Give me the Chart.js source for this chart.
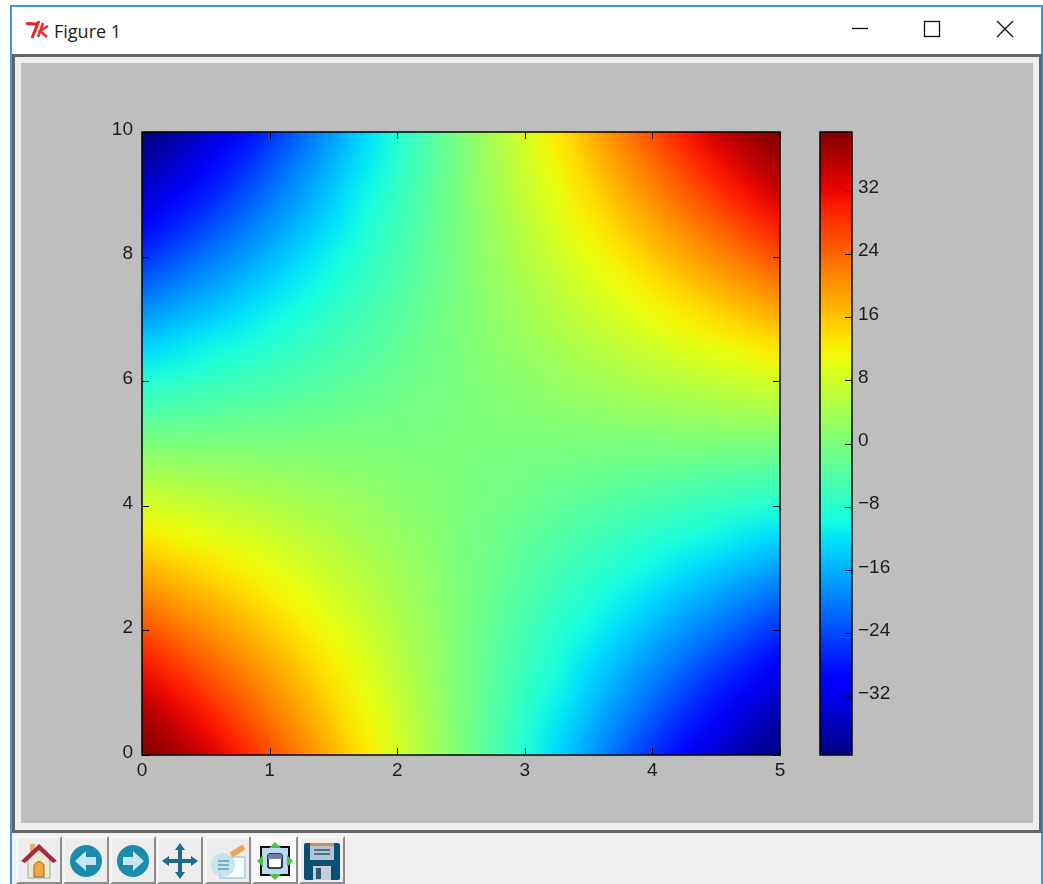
<!DOCTYPE html>
<html>
<head>
<meta charset="utf-8">
<title>Figure 1</title>
<script src="https://cdn.jsdelivr.net/npm/chart.js@4/dist/chart.umd.min.js"></script>
<style>
	html, body { margin: 0; padding: 0; background: #fff; overflow: hidden; }
	.box { position: absolute; box-sizing: border-box; }
	#win { left: 10px; top: 5px; width: 1033px; height: 879px; border: 2px solid #3f96dc; border-bottom: 0; background: #fff; }
	#frame { left: 12px; top: 54px; width: 1030px; height: 779px; border: 3px solid #666; background: #eee; }
	#fig { left: 21px; top: 63px; width: 1012px; height: 760px; background: #bebebe; }
	#bar { left: 12px; top: 833px; width: 1029px; height: 51px; background: #f0f0f0; }
	#name { left: 54px; top: 19px; font: 18px "Open Sans", sans-serif; color: #222; }
	canvas { position: absolute; }
	.btn { position: absolute; top: 836px; width: 46px; height: 48px; box-sizing: border-box; background: #ededed;
		border: 2px solid; border-color: #f6f6f6 #8c8c8c #8c8c8c #f6f6f6; }
	.btn svg { position: absolute; left: 2px; top: 3px; }
	.ctl { position: absolute; top: 14px; }
</style>
</head>
<body>
<div class="box" id="win"></div>
<div class="box" id="frame"></div>
<div class="box" id="fig"></div>
<div class="box" id="bar"></div>

<svg class="ctl" style="left:25px;top:21px" width="26" height="20" viewBox="0 0 26 20">
	<path d="M1 3 C5 1 9 5 13 2 L7 17" fill="none" stroke="#f0202a" stroke-width="3"/>
	<path d="M18 2 L13 16 M23 5 L15 10 L22 16" fill="none" stroke="#e8303a" stroke-width="2.6"/>
</svg>
<div class="box" id="name">Figure 1</div>
<svg class="ctl" style="left:850px" width="20" height="30"><path d="M2 14.5 H18" stroke="#111" stroke-width="1.3"/></svg>
<svg class="ctl" style="left:922px" width="20" height="30"><rect x="2.5" y="7.5" width="15" height="15" fill="none" stroke="#111" stroke-width="1.3"/></svg>
<svg class="ctl" style="left:995px" width="20" height="30"><path d="M2 7 L18 23 M18 7 L2 23" stroke="#111" stroke-width="1.3"/></svg>

<canvas id="chart-heat" width="779" height="760" style="left:21px;top:63px"></canvas>
<canvas id="chart-bar" width="233" height="760" style="left:800px;top:63px"></canvas>

<div class="btn" style="left:16px"><svg width="38" height="40" viewBox="0 0 38 40">
	<rect x="10" y="3" width="5" height="10" fill="#e0b070"/><path d="M8 17 L19 7 L30 17 V37 H8 Z" fill="#f2e6d0" stroke="#9aa" />
	<path d="M14 36 V24 Q19 17 24 24 V36 Z" fill="#eea93a" stroke="#8a6a30"/>
	<path d="M1 20 L19 3 L37 20 L33 22 L19 9 L5 22 Z" fill="#a52a40"/></svg></div>
<div class="btn" style="left:63px"><svg width="38" height="40" viewBox="0 0 38 40">
	<circle cx="19" cy="20" r="16" fill="#1b8cab"/><path d="M8 20 L19 10 V16 H29 V24 H19 V30 Z" fill="#c5e6ee"/></svg></div>
<div class="btn" style="left:110px"><svg width="38" height="40" viewBox="0 0 38 40">
	<circle cx="19" cy="20" r="16" fill="#1b8cab"/><path d="M30 20 L19 10 V16 H9 V24 H19 V30 Z" fill="#c5e6ee"/></svg></div>
<div class="btn" style="left:157px"><svg width="38" height="40" viewBox="0 0 38 40">
	<path d="M19 2 L24 9 H21 V18 H30 V15 L37 20 L30 25 V22 H21 V31 H24 L19 38 L14 31 H17 V22 H8 V25 L1 20 L8 15 V18 H17 V9 H14 Z" fill="#1c6a8e"/></svg></div>
<div class="btn" style="left:205px"><svg width="38" height="40" viewBox="0 0 38 40">
	<rect x="11" y="16" width="25" height="21" fill="#f6fbfd" stroke="#9fd0de" stroke-width="1.5"/>
	<circle cx="14" cy="24" r="12" fill="#bfe0ea" opacity=".85"/>
	<path d="M9 20 H20 M9 24 H20 M9 28 H20" stroke="#5d9cb4" stroke-width="1.6"/>
	<path d="M22 14 L35 6" stroke="#eda45c" stroke-width="6"/></svg></div>
<div class="btn" style="left:252px;background:#fafafa"><svg width="38" height="40" viewBox="0 0 38 40">
	<rect x="5" y="6" width="28" height="28" fill="#bcd9ee" stroke="#111" stroke-width="2"/>
	<rect x="12" y="13" width="14" height="14" rx="2" fill="#fff" stroke="#111" stroke-width="1.6"/>
	<rect x="12" y="13" width="14" height="5" fill="#6a80a8"/>
	<path d="M19 1 L25 7 H13 Z M19 39 L25 33 H13 Z M1 20 L7 14 V26 Z M37 20 L31 14 V26 Z" fill="#43c443"/></svg></div>
<div class="btn" style="left:299px"><svg width="38" height="40" viewBox="0 0 38 40">
	<rect x="1" y="2" width="36" height="37" rx="2" fill="#0c4f76"/>
	<rect x="7" y="2" width="24" height="17" fill="#b3c4d0"/><rect x="7" y="2" width="24" height="3" fill="#d08a58"/>
	<path d="M11 9 H27 M11 13 H27" stroke="#49708a" stroke-width="2"/>
	<rect x="10" y="25" width="18" height="14" fill="#c4ced6"/><rect x="13" y="27" width="5" height="11" fill="#34546c"/></svg></div>

<script>
// Chart data
const xNodes = [0, 0.25, 0.5, 0.75, 1, 1.25, 1.5, 1.75, 2, 2.25, 2.5, 2.75, 3, 3.25, 3.5, 3.75, 4, 4.25, 4.5, 4.75, 5];
const yNodes = [10, 9.5, 9, 8.5, 8, 7.5, 7, 6.5, 6, 5.5, 5, 4.5, 4, 3.5, 3, 2.5, 2, 1.5, 1, 0.5, 0];
const heatRows = [
	[-39.4, -37.1, -34.1, -30.2, -25.9, -21.6, -17.3, -12.9, -8.6, -4.3, 0, 4.3, 8.6, 12.9, 17.3, 21.6, 25.9, 30.2, 34.1, 37.1, 39.4],
	[-37.1, -34.4, -31.1, -27.2, -23.3, -19.4, -15.5, -11.6, -7.8, -3.9, 0, 3.9, 7.8, 11.6, 15.5, 19.4, 23.3, 27.2, 31.1, 34.4, 37.1],
	[-34.1, -31.1, -27.6, -24.2, -20.7, -17.3, -13.8, -10.4, -6.9, -3.5, 0, 3.5, 6.9, 10.4, 13.8, 17.3, 20.7, 24.2, 27.6, 31.1, 34.1],
	[-30.2, -27.2, -24.2, -21.1, -18.1, -15.1, -12.1, -9.1, -6, -3, 0, 3, 6, 9.1, 12.1, 15.1, 18.1, 21.1, 24.2, 27.2, 30.2],
	[-25.9, -23.3, -20.7, -18.1, -15.5, -12.9, -10.4, -7.8, -5.2, -2.6, 0, 2.6, 5.2, 7.8, 10.4, 12.9, 15.5, 18.1, 20.7, 23.3, 25.9],
	[-21.6, -19.4, -17.3, -15.1, -12.9, -10.8, -8.6, -6.5, -4.3, -2.2, 0, 2.2, 4.3, 6.5, 8.6, 10.8, 12.9, 15.1, 17.3, 19.4, 21.6],
	[-17.3, -15.5, -13.8, -12.1, -10.4, -8.6, -6.9, -5.2, -3.5, -1.7, 0, 1.7, 3.5, 5.2, 6.9, 8.6, 10.4, 12.1, 13.8, 15.5, 17.3],
	[-12.9, -11.6, -10.4, -9.1, -7.8, -6.5, -5.2, -3.9, -2.6, -1.3, 0, 1.3, 2.6, 3.9, 5.2, 6.5, 7.8, 9.1, 10.4, 11.6, 12.9],
	[-8.6, -7.8, -6.9, -6, -5.2, -4.3, -3.5, -2.6, -1.7, -0.9, 0, 0.9, 1.7, 2.6, 3.5, 4.3, 5.2, 6, 6.9, 7.8, 8.6],
	[-4.3, -3.9, -3.5, -3, -2.6, -2.2, -1.7, -1.3, -0.9, -0.4, 0, 0.4, 0.9, 1.3, 1.7, 2.2, 2.6, 3, 3.5, 3.9, 4.3],
	[0, 0, 0, 0, 0, 0, 0, 0, 0, 0, 0, 0, 0, 0, 0, 0, 0, 0, 0, 0, 0],
	[4.3, 3.9, 3.5, 3, 2.6, 2.2, 1.7, 1.3, 0.9, 0.4, 0, -0.4, -0.9, -1.3, -1.7, -2.2, -2.6, -3, -3.5, -3.9, -4.3],
	[8.6, 7.8, 6.9, 6, 5.2, 4.3, 3.5, 2.6, 1.7, 0.9, 0, -0.9, -1.7, -2.6, -3.5, -4.3, -5.2, -6, -6.9, -7.8, -8.6],
	[12.9, 11.6, 10.4, 9.1, 7.8, 6.5, 5.2, 3.9, 2.6, 1.3, 0, -1.3, -2.6, -3.9, -5.2, -6.5, -7.8, -9.1, -10.4, -11.6, -12.9],
	[17.3, 15.5, 13.8, 12.1, 10.4, 8.6, 6.9, 5.2, 3.5, 1.7, 0, -1.7, -3.5, -5.2, -6.9, -8.6, -10.4, -12.1, -13.8, -15.5, -17.3],
	[21.6, 19.4, 17.3, 15.1, 12.9, 10.8, 8.6, 6.5, 4.3, 2.2, 0, -2.2, -4.3, -6.5, -8.6, -10.8, -12.9, -15.1, -17.3, -19.4, -21.6],
	[25.9, 23.3, 20.7, 18.1, 15.5, 12.9, 10.4, 7.8, 5.2, 2.6, 0, -2.6, -5.2, -7.8, -10.4, -12.9, -15.5, -18.1, -20.7, -23.3, -25.9],
	[30.2, 27.2, 24.2, 21.1, 18.1, 15.1, 12.1, 9.1, 6, 3, 0, -3, -6, -9.1, -12.1, -15.1, -18.1, -21.1, -24.2, -27.2, -30.2],
	[34.1, 31.1, 27.6, 24.2, 20.7, 17.3, 13.8, 10.4, 6.9, 3.5, 0, -3.5, -6.9, -10.4, -13.8, -17.3, -20.7, -24.2, -27.6, -31.1, -34.1],
	[37.1, 34.4, 31.1, 27.2, 23.3, 19.4, 15.5, 11.6, 7.8, 3.9, 0, -3.9, -7.8, -11.6, -15.5, -19.4, -23.3, -27.2, -31.1, -34.4, -37.1],
	[39.4, 37.1, 34.1, 30.2, 25.9, 21.6, 17.3, 12.9, 8.6, 4.3, 0, -4.3, -8.6, -12.9, -17.3, -21.6, -25.9, -30.2, -34.1, -37.1, -39.4],
];

const barColumns = [0, 1];
const barLevels = [40, 38, 36, 34, 32, 30, 28, 26, 24, 22, 20, 18, 16, 14, 12, 10, 8, 6, 4, 2, 0, -2, -4, -6, -8, -10, -12, -14, -16, -18, -20, -22, -24, -26, -28, -30, -32, -34, -36, -38, -40];

const xTicks = [0, 1, 2, 3, 4, 5];
const yTicks = [0, 2, 4, 6, 8, 10];
const barTicks = [-32, -24, -16, -8, 0, 8, 16, 24, 32];
const barMin = -39.4;
const barMax = 39.4;

const tickFont = { family: 'Liberation Sans', size: 19 };
const tickColor = '#1c1c1c';

// matplotlib jet
function ramp(t, pts) {
	for (let i = 1; i < pts.length; i++) {
		if (t <= pts[i][0]) {
			const a = pts[i - 1], b = pts[i];
			return a[1] + ((b[1] - a[1]) * (t - a[0])) / (b[0] - a[0]);
		}
	}
	return pts[pts.length - 1][1];
}
function jet(v) {
	const t = Math.min(1, Math.max(0, (v - barMin) / (barMax - barMin)));
	const r = ramp(t, [[0, 0], [0.35, 0], [0.66, 1], [0.89, 1], [1, 0.5]]);
	const g = ramp(t, [[0, 0], [0.125, 0], [0.375, 1], [0.64, 1], [0.91, 0], [1, 0]]);
	const b = ramp(t, [[0, 0.5], [0.11, 1], [0.34, 1], [0.65, 0], [1, 0]]);
	return `rgb(${Math.round(r * 255)},${Math.round(g * 255)},${Math.round(b * 255)})`;
}

// Paints the grid nodes of dataset 0 as cells, smoothed like imshow does
const cellField = {
	id: 'cellField',
	beforeDatasetsDraw(chart, args, opts) {
		const pts = chart.data.datasets[0].data;
		const nx = opts.cols;
		const ny = pts.length / nx;
		const off = document.createElement('canvas');
		off.width = nx;
		off.height = ny;
		const octx = off.getContext('2d');
		pts.forEach((p, i) => {
			octx.fillStyle = jet(p.v);
			octx.fillRect(i % nx, Math.floor(i / nx), 1, 1);
		});

		const xs = chart.scales.x, ys = chart.scales.y;
		const dx = (pts[1].x - pts[0].x) / 2;
		const dy = (pts[0].y - pts[nx].y) / 2;
		const left = xs.getPixelForValue(pts[0].x - dx);
		const right = xs.getPixelForValue(pts[nx - 1].x + dx);
		const top = ys.getPixelForValue(pts[0].y + dy);
		const bottom = ys.getPixelForValue(pts[pts.length - 1].y - dy);

		const a = chart.chartArea, ctx = chart.ctx;
		ctx.save();
		ctx.beginPath();
		ctx.rect(a.left, a.top, a.right - a.left, a.bottom - a.top);
		ctx.clip();
		ctx.imageSmoothingEnabled = true;
		ctx.imageSmoothingQuality = 'high';
		ctx.drawImage(off, left, top, right - left, bottom - top);
		ctx.restore();
	},
};

// Inward ticks and the black box round the axes
const axesBox = {
	id: 'axesBox',
	afterDatasetsDraw(chart, args, opts) {
		const a = chart.chartArea, ctx = chart.ctx;
		const len = 7;
		ctx.save();
		ctx.strokeStyle = '#000';
		ctx.lineWidth = 1;
		ctx.beginPath();
		if (opts.xTicks) {
			chart.scales.x.ticks.forEach((t) => {
				const px = Math.round(chart.scales.x.getPixelForValue(t.value)) + 0.5;
				ctx.moveTo(px, a.top);
				ctx.lineTo(px, a.top + len);
				ctx.moveTo(px, a.bottom);
				ctx.lineTo(px, a.bottom - len);
			});
		}
		chart.scales.y.ticks.forEach((t) => {
			const py = Math.round(chart.scales.y.getPixelForValue(t.value)) + 0.5;
			if (opts.leftTicks) {
				ctx.moveTo(a.left, py);
				ctx.lineTo(a.left + len, py);
			}
			ctx.moveTo(a.right, py);
			ctx.lineTo(a.right - len, py);
		});
		ctx.stroke();
		ctx.lineWidth = 1.5;
		ctx.strokeRect(a.left, a.top, a.right - a.left, a.bottom - a.top);
		ctx.restore();
	},
};

function gridPoints(xList, yList, rows) {
	const out = [];
	rows.forEach((row, j) => row.forEach((v, i) => out.push({ x: xList[i], y: yList[j], v })));
	return out;
}

// Heat map
!(function () {
	new Chart(document.getElementById('chart-heat'), {
		type: 'scatter',
		plugins: [cellField, axesBox],
		data: {
			datasets: [{ data: gridPoints(xNodes, yNodes, heatRows), pointRadius: 0 }],
		},
		options: {
			responsive: false,
			animation: false,
			layout: { padding: { top: 69, right: 20, left: 0, bottom: 0 } },
			events: [],
			scales: {
				x: {
					type: 'linear',
					min: 0,
					max: 5,
					grid: { display: false, drawTicks: false },
					border: { display: false },
					afterBuildTicks: (s) => { s.ticks = xTicks.map((value) => ({ value })); },
					afterFit: (s) => { s.height = 68; },
					ticks: { font: tickFont, color: tickColor, padding: 4, maxRotation: 0 },
				},
				y: {
					min: 0,
					max: 10,
					grid: { display: false, drawTicks: false },
					border: { display: false },
					afterBuildTicks: (s) => { s.ticks = yTicks.map((value) => ({ value })); },
					afterFit: (s) => { s.width = 121; },
					ticks: { font: tickFont, color: tickColor, padding: 9, labelOffset: -2.5 },
				},
			},
			plugins: {
				legend: { display: false },
				tooltip: { enabled: false },
				cellField: { cols: xNodes.length },
				axesBox: { xTicks: true, leftTicks: true },
			},
		},
	});
})();

// Colour bar
!(function () {
	new Chart(document.getElementById('chart-bar'), {
		type: 'scatter',
		plugins: [cellField, axesBox],
		data: {
			datasets: [{
				data: gridPoints(barColumns, barLevels, barLevels.map((v) => [v, v])),
				pointRadius: 0,
			}],
		},
		options: {
			responsive: false,
			animation: false,
			layout: { padding: { top: 69, left: 20, bottom: 68, right: 0 } },
			events: [],
			scales: {
				x: { type: 'linear', display: false, min: 0, max: 1 },
				y: {
					position: 'right',
					min: barMin,
					max: barMax,
					grid: { display: false, drawTicks: false },
					border: { display: false },
					afterBuildTicks: (s) => { s.ticks = barTicks.map((value) => ({ value })); },
					afterFit: (s) => { s.width = 181; },
					ticks: {
						font: tickFont,
						color: tickColor,
						padding: 6,
						labelOffset: -2.5,
						callback: (v) => String(v).replace('-', '\u2212'),
					},
				},
			},
			plugins: {
				legend: { display: false },
				tooltip: { enabled: false },
				cellField: { cols: barColumns.length },
				axesBox: { xTicks: false, leftTicks: false },
			},
		},
	});
})();
</script>
</body>
</html>
